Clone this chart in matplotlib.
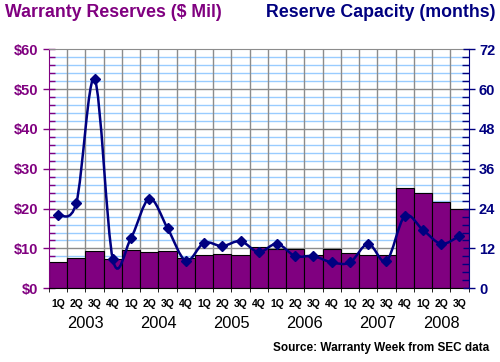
import numpy as np
import matplotlib
matplotlib.use("Agg")
import matplotlib.pyplot as plt
from matplotlib.path import Path
from matplotlib.patches import PathPatch

plt.rcParams['font.family'] = ['Liberation Sans', 'DejaVu Sans']

years = ["2003", "2004", "2005", "2006", "2007", "2008"]
quarters_per_year = [4, 4, 4, 4, 4, 3]
quarter_labels = ["1Q", "2Q", "3Q", "4Q"] * 5 + ["1Q", "2Q", "3Q"]

# warranty reserves, $ millions
reserves = [6.5, 7.5, 9.4, 7.4, 9.5, 9.0, 9.4, 7.5, 8.4, 8.5, 8.3, 10.3,
            9.9, 9.9, 8.3, 9.9, 8.8, 8.3, 8.3, 25.1, 23.8, 21.6, 19.9]
# reserve capacity, months
capacity = [22.1, 25.8, 63.0, 8.7, 15.2, 27.0, 18.1, 8.3, 13.7, 12.7, 14.2, 10.9,
            13.4, 9.7, 9.7, 7.8, 7.8, 13.4, 8.2, 21.7, 17.6, 13.4, 15.7]

PURPLE = "#800080"
NAVY = "#000080"
GRAY = "#8c8c8c"
LBLUE = "#99ccff"

fig = plt.figure(figsize=(5, 3.62), dpi=100)
ax = fig.add_axes([0.098, 0.2036, 0.839, 0.6602])
x = np.arange(len(reserves))

# grid
for v in np.arange(2, 60, 2):
    ax.axhline(v, color=GRAY if v % 10 == 0 else LBLUE, lw=1, zorder=0)
for b in np.arange(0.5, len(x) - 1, 1):
    ax.axvline(b, color=GRAY, lw=1, zorder=0)

ax.bar(x, reserves, width=1.0, color=PURPLE, edgecolor="black", linewidth=0.8, zorder=2)
ax.set_xlim(-0.5, len(x) - 0.5)
ax.set_ylim(0, 60)
ax.set_yticks(np.arange(0, 61, 10))
ax.set_yticklabels(["$%d" % v for v in range(0, 61, 10)])
ax.set_yticks(np.arange(0, 61, 2), minor=True)
ax.tick_params(axis="y", which="major", direction="inout", length=9, width=1,
               color=PURPLE, labelcolor=PURPLE, labelsize=10.5, pad=3)
ax.tick_params(axis="y", which="minor", direction="in", length=4, width=1, color=PURPLE)
for t in ax.get_yticklabels():
    t.set_fontweight("bold")

ax.set_xticks(x)
ax.set_xticklabels(quarter_labels, fontsize=7.5, fontweight="bold")
ax.set_xticks(np.arange(-0.5, len(x), 1), minor=True)
ax.tick_params(axis="x", which="major", length=0, pad=8)
ax.tick_params(axis="x", which="minor", direction="out", length=3, color="black")

ax.spines["left"].set_color(PURPLE)
ax.spines["top"].set_color(GRAY)
ax.spines["bottom"].set_color("black")
ax.spines["right"].set_visible(False)

ax2 = ax.twinx()
ax2.set_ylim(0, 72)
ax2.set_yticks(np.arange(0, 73, 12))
ax2.set_yticks(np.arange(0, 73, 2.4), minor=True)
ax2.tick_params(axis="y", which="major", direction="inout", length=9, width=1,
                color=NAVY, labelcolor=NAVY, labelsize=10.5, pad=3)
ax2.tick_params(axis="y", which="minor", direction="in", length=5, width=1, color=NAVY)
for t in ax2.get_yticklabels():
    t.set_fontweight("bold")
ax2.spines["right"].set_color(NAVY)
for s in ["left", "top", "bottom"]:
    ax2.spines[s].set_visible(False)

# smoothed line (Bezier through the points, like Excel)
pts = np.column_stack([x, capacity]).astype(float)
n = len(pts)
verts = [pts[0]]
codes = [Path.MOVETO]
for i in range(n - 1):
    p0 = pts[max(i - 1, 0)]
    p1 = pts[i]
    p2 = pts[i + 1]
    p3 = pts[min(i + 2, n - 1)]
    c1 = p1 + (p2 - p0) / 6.0
    c2 = p2 - (p3 - p1) / 6.0
    verts += [c1, c2, p2]
    codes += [Path.CURVE4] * 3
ax2.add_patch(PathPatch(Path(verts, codes), facecolor="none", edgecolor=NAVY, lw=1.8, zorder=3))
ax2.plot(x, capacity, linestyle="none", marker="D", markersize=5, color=NAVY, zorder=4)

# year labels
start = 0
for yr, nq in zip(years, quarters_per_year):
    ax.text(start + (nq - 1) / 2.0, -0.147, yr, transform=ax.get_xaxis_transform(),
            ha="center", va="center", fontsize=11.8)
    start += nq

fig.text(0.01, 0.965, "Warranty Reserves ($ Mil)", color=PURPLE, fontsize=12.8,
         fontweight="bold", ha="left", va="center")
fig.text(0.99, 0.965, "Reserve Capacity (months)", color=NAVY, fontsize=12.8,
         fontweight="bold", ha="right", va="center")
fig.text(0.978, 0.039, "Source: Warranty Week from SEC data", fontsize=8.5,
         fontweight="bold", ha="right", va="center")

fig.savefig("out.png", dpi=100)
